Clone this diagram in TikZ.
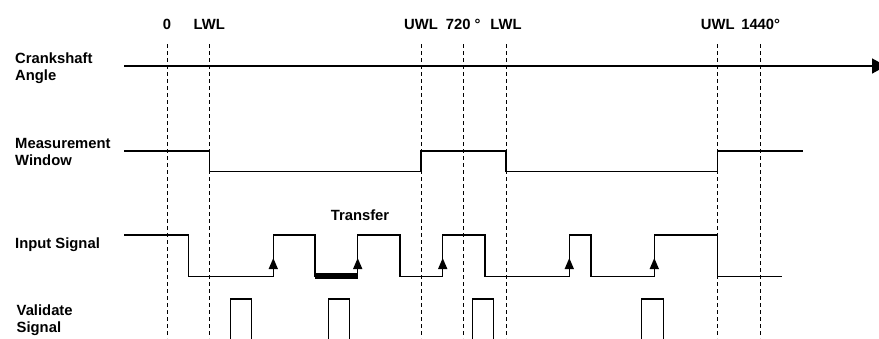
\documentclass[tikz,border=0pt]{standalone}
\usepackage{fontspec}
\setmainfont{Liberation Sans}
\usetikzlibrary{arrows.meta,positioning}

\begin{document}
\begin{tikzpicture}[
  x=1pt, y=-1pt,
  lbl/.style={font=\fontsize{14.8}{17}\selectfont\bfseries, inner sep=0pt, align=left, anchor=base west},
  ticklbl/.style={font=\fontsize{14.8}{17}\selectfont\bfseries, inner sep=0pt, anchor=base},
  wave/.style={line width=1.4pt},
  guide/.style={dash pattern=on 4pt off 3pt, line width=0.8pt},
  rise/.style={-{Triangle[length=11pt,width=9pt]}, line width=1.4pt},
  axis/.style={line width=1.6pt, -{Triangle[length=14pt,width=15pt]}}
]
\useasboundingbox (0,0) rectangle (879,338);

% row labels (base = last line)
\node[lbl] (crank) at (15,80.5) {Crankshaft\\Angle};
\node[lbl] (window) at (15,165) {Measurement\\Window};
\node[lbl] (input) at (15,248.3) {Input Signal};
\node[lbl] (valid) at (16.5,332.7) {Validate\\Signal};

% angle marks and dashed guides
\foreach \x/\t [count=\i] in {167/0, 209.3/LWL, 421/UWL, 463.3/{720 °}, 506/LWL, 717.7/UWL, 760.7/1440°}{
  \node[ticklbl] (tick\i) at (\x,29.3) {\t};
  \draw[guide] (\x,44) -- (\x,338);
}

% crankshaft angle axis
\draw[axis] (124,66) -- (886,66);

% measurement window
\draw[wave] (124,151) -| (209.3,171.7) -| (421,151) -| (506,171.7) -| (717.7,151) -- (803,151);

% input signal
\draw[wave] (124,235) -| (188.3,276.7) -| (273.3,235) -| (315,276.7) -| (357.7,235)
  -| (400,276.7) -| (442.7,235) -| (485,276.7) -| (569.3,235) -| (591,276.7)
  -| (654.3,235) -| (717.7,276.7) -- (781.7,276.7);
\foreach \x in {273.3,357.7,442.7,569.3,654.3}
  \draw[rise] (\x,276.7) -- (\x,258);
\draw[line width=6pt] (315,276) -- (357.7,276);
\node[ticklbl] (transfer) at (360,220) {Transfer};

% validate signal
\foreach \a/\b in {230.7/251.7, 328.3/349.3, 472.3/493.3, 641.7/663.3}
  \draw[wave] (\a,342) |- (\b,299) -- (\b,342);
\end{tikzpicture}
\end{document}
